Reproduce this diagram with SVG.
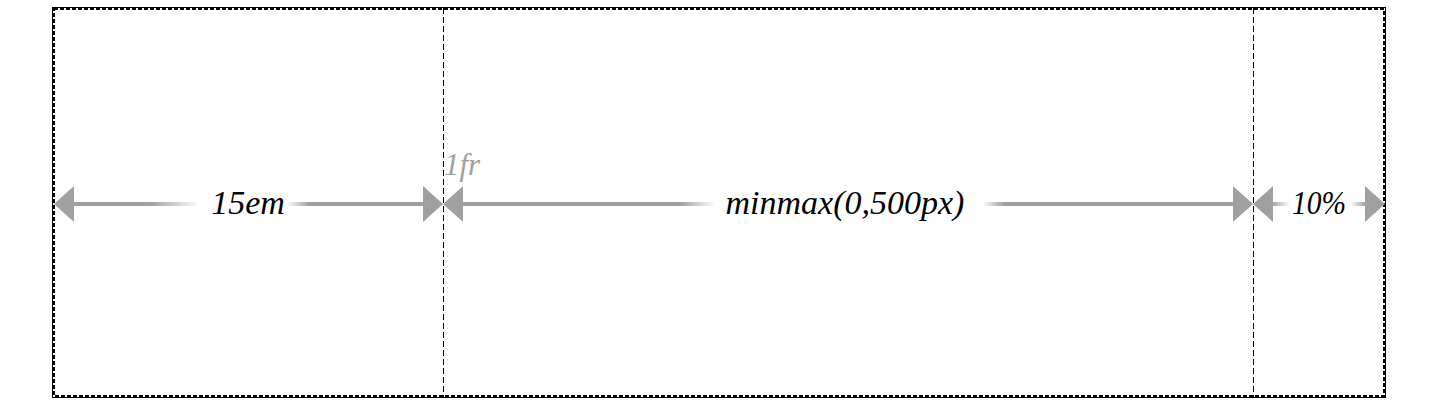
<svg xmlns="http://www.w3.org/2000/svg" width="1440" height="407" viewBox="0 0 1440 407">
<style>
.lbl{font-family:"Liberation Serif","DejaVu Serif",serif;font-style:italic;font-size:34px;fill:#000;text-anchor:middle}
.fr{font-family:"Liberation Serif","DejaVu Serif",serif;font-style:italic;font-size:31px;fill:#a0a0a0}
.dim{stroke:#a0a0a0;stroke-width:4;fill:none}
.head{fill:#a0a0a0}
.track{stroke:#000;stroke-width:1;stroke-dasharray:6 3;fill:none}
</style>
<defs>
<linearGradient id="fin" x1="0" y1="0" x2="1" y2="0">
<stop offset="0" stop-color="#fff" stop-opacity="0"/>
<stop offset="1" stop-color="#fff" stop-opacity="1"/>
</linearGradient>
<linearGradient id="fout" x1="0" y1="0" x2="1" y2="0">
<stop offset="0" stop-color="#fff" stop-opacity="1"/>
<stop offset="1" stop-color="#fff" stop-opacity="0"/>
</linearGradient>
</defs>
<rect width="1440" height="407" fill="#fff"/>
<g id="grid">
<rect x="52.5" y="7.5" width="1333" height="390" fill="none" stroke="#000" stroke-width="1"/>
<rect x="54" y="9" width="1330" height="387" fill="none" stroke="#000" stroke-width="2" stroke-dasharray="4 2"/>
<line class="track" x1="443.5" y1="8" x2="443.5" y2="397"/>
<line class="track" x1="1253.5" y1="8" x2="1253.5" y2="397"/>
</g>
<g id="connectors">
<line class="dim" x1="72" y1="204" x2="425" y2="204"/>
<line class="dim" x1="461" y1="204" x2="1235" y2="204"/>
<line class="dim" x1="1271" y1="204" x2="1368" y2="204"/>
<polygon class="head" points="54,204 74,186 74,222"/>
<polygon class="head" points="443,204 423,186 423,222"/>
<polygon class="head" points="443,204 463,186 463,222"/>
<polygon class="head" points="1253,204 1233,186 1233,222"/>
<polygon class="head" points="1253,204 1273,186 1273,222"/>
<polygon class="head" points="1385,204 1365,186 1365,222"/>
</g>
<g id="col1">
<rect x="150" y="200" width="50" height="8" fill="url(#fin)"/>
<rect x="199" y="200" width="89" height="8" fill="#fff"/>
<rect x="287" y="200" width="22" height="8" fill="url(#fout)"/>
<text class="lbl" x="248" y="214">15em</text>
</g>
<g id="col2">
<rect x="680" y="200" width="35" height="8" fill="url(#fin)"/>
<rect x="714" y="200" width="269" height="8" fill="#fff"/>
<rect x="982" y="200" width="22" height="8" fill="url(#fout)"/>
<text class="lbl" x="845" y="214">minmax(0,500px)</text>
<text class="fr" x="444" y="175">1fr</text>
</g>
<g id="col3">
<rect x="1272" y="200" width="18" height="8" fill="url(#fin)"/>
<rect x="1289" y="200" width="62" height="8" fill="#fff"/>
<rect x="1350" y="200" width="16" height="8" fill="url(#fout)"/>
<text class="lbl" x="1319" y="214" textLength="54" lengthAdjust="spacingAndGlyphs">10%</text>
</g>
</svg>
